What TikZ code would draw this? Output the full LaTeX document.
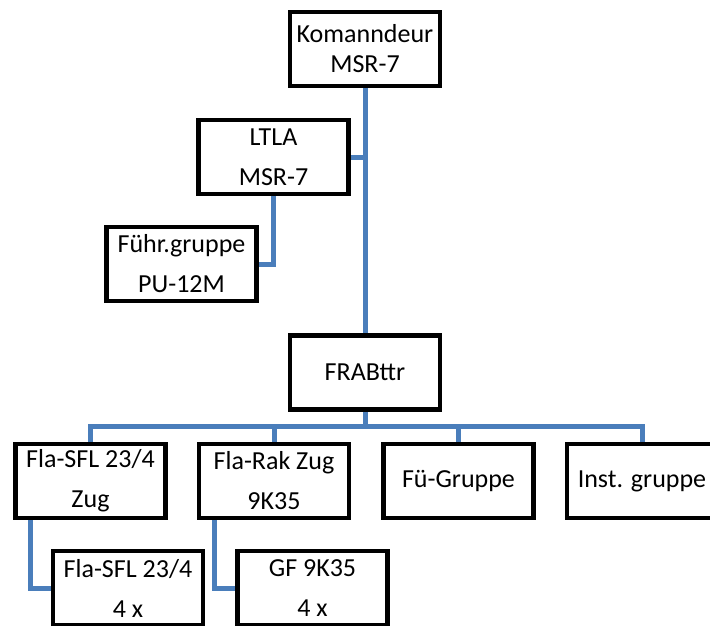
\documentclass[tikz,border=0pt]{standalone}
\usepackage{fontspec}
\setmainfont{Carlito}
\usepackage{tikz}
\usetikzlibrary{positioning, calc, backgrounds}

\definecolor{linkblue}{RGB}{74,126,187}

\begin{document}
\begin{tikzpicture}[x=1pt, y=-1pt,
  unit/.style={draw=black, line width=4.3pt, fill=white, minimum width=150pt, minimum height=74pt,
    inner sep=0pt, align=center, font=\fontsize{26}{40}\selectfont},
  link/.style={draw=linkblue, line width=5pt}]
  \useasboundingbox (0,0) rectangle (710,626);
  % command level
  \node[unit, font=\fontsize{26}{30}\selectfont] (kdr) at (365,49) {Komanndeur\\MSR-7};
  \node[unit] (ltla) at (273.5,157) {LTLA\\MSR-7};
  \node[unit] (fg) at (181.5,264) {Führ.gruppe\\PU-12M};
  \node[unit] (frab) at (365,372.5) {FRABttr};
  % platoons
  \node[unit] (zsfl) at (90.5,481) {Fla-SFL 23/4\\Zug};
  \node[unit] (zrak) at (274,481) {Fla-Rak Zug\\9K35};
  \node[unit] (fue) at (458.5,481) {Fü-Gruppe};
  \node[unit] (inst) at (642,481) {Inst. gruppe};
  \node[unit] (sfl) at (128,588) {Fla-SFL 23/4\\4 x};
  \node[unit] (gf) at (312.5,588) {GF 9K35\\4 x};

  \begin{scope}[on background layer]
    \draw[link] (kdr.south) -- (frab.north);
    \draw[link] (ltla.east) -- (ltla.east -| kdr.south);
    \draw[link] (ltla.south) |- (fg.east);
    \coordinate (bus) at ($(frab.south)+(0,15)$);
    \draw[link] (frab.south) -- (bus);
    \foreach \n in {zsfl,zrak,fue,inst}
      \draw[link] (\n.north) |- (bus);
    \draw[link] ($(zsfl.south west)+(17.5,0)$) |- (sfl.west);
    \draw[link] ($(zrak.south west)+(17.5,0)$) |- (gf.west);
  \end{scope}
\end{tikzpicture}
\end{document}
